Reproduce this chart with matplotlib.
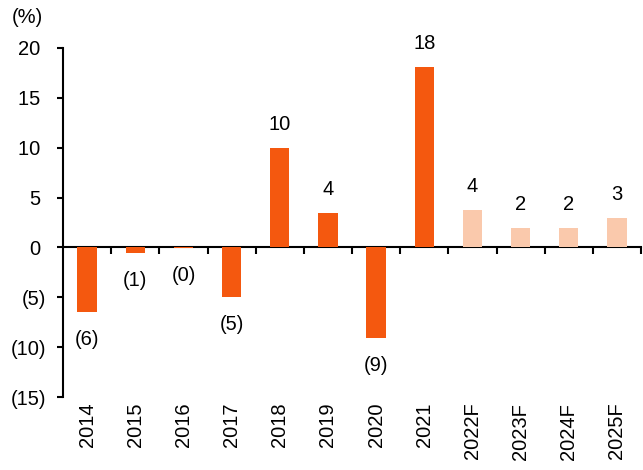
import matplotlib
matplotlib.use('Agg')
import matplotlib.pyplot as plt
from matplotlib.ticker import FuncFormatter

plt.rcParams['font.family'] = ['Liberation Sans', 'DejaVu Sans']

# data
years = ['2014', '2015', '2016', '2017', '2018', '2019', '2020', '2021',
         '2022F', '2023F', '2024F', '2025F']
growth = [-6.45, -0.55, -0.02, -5.0, 10.0, 3.5, -9.05, 18.1, 3.8, 2.0, 2.0, 3.0]
is_forecast = [False] * 8 + [True] * 4

DARK = '#F4580F'
LIGHT = '#FAC9AC'
FS = 14.5


def fmt(v):
    s = f'{abs(v):.0f}'
    return f'({s})' if v < 0 else s


fig = plt.figure(figsize=(6.43, 4.70), dpi=100)
ax = fig.add_axes([0.098, 0.155, 0.899, 0.743])

x = list(range(len(years)))
colors = [LIGHT if f else DARK for f in is_forecast]
bars = ax.bar(x, growth, width=0.4, color=colors, zorder=2)

for b, v in zip(bars, growth):
    cx = b.get_x() + b.get_width() / 2
    if v >= 0:
        ax.annotate(fmt(v), (cx, v), xytext=(0, 10), textcoords='offset points',
                    ha='center', va='bottom', fontsize=FS)
    else:
        ax.annotate(fmt(v), (cx, v), xytext=(0, -13), textcoords='offset points',
                    ha='center', va='top', fontsize=FS)

ax.set_xlim(-0.5, len(years) - 0.5)
ax.set_ylim(-15, 20)
ax.set_yticks(range(-15, 21, 5))
ax.yaxis.set_major_formatter(FuncFormatter(
    lambda v, p: f'({abs(v):.0f})' if v < 0 else f'{v:.0f} '))
ax.tick_params(axis='y', direction='out', length=4, width=1.5, pad=8,
               labelsize=FS)

ax.set_xticks(x)
ax.set_xticklabels(years, rotation=90, fontsize=FS)
ax.tick_params(axis='x', length=0, pad=4)

for s in ['top', 'right', 'bottom']:
    ax.spines[s].set_visible(False)
ax.spines['left'].set_linewidth(1.5)

# zero axis with category-boundary ticks
lo, hi = ax.get_ylim()
zax = ax.secondary_xaxis((0 - lo) / (hi - lo))
zax.set_xticks([i + 0.5 for i in x])
zax.set_xticklabels([])
zax.spines['bottom'].set_linewidth(1.5)
zax.tick_params(axis='x', direction='out', length=5, width=1.5)

fig.text(0.042, 0.963, '(%)', ha='center', va='center', fontsize=FS)

fig.savefig('out.png', dpi=100, facecolor='white')
